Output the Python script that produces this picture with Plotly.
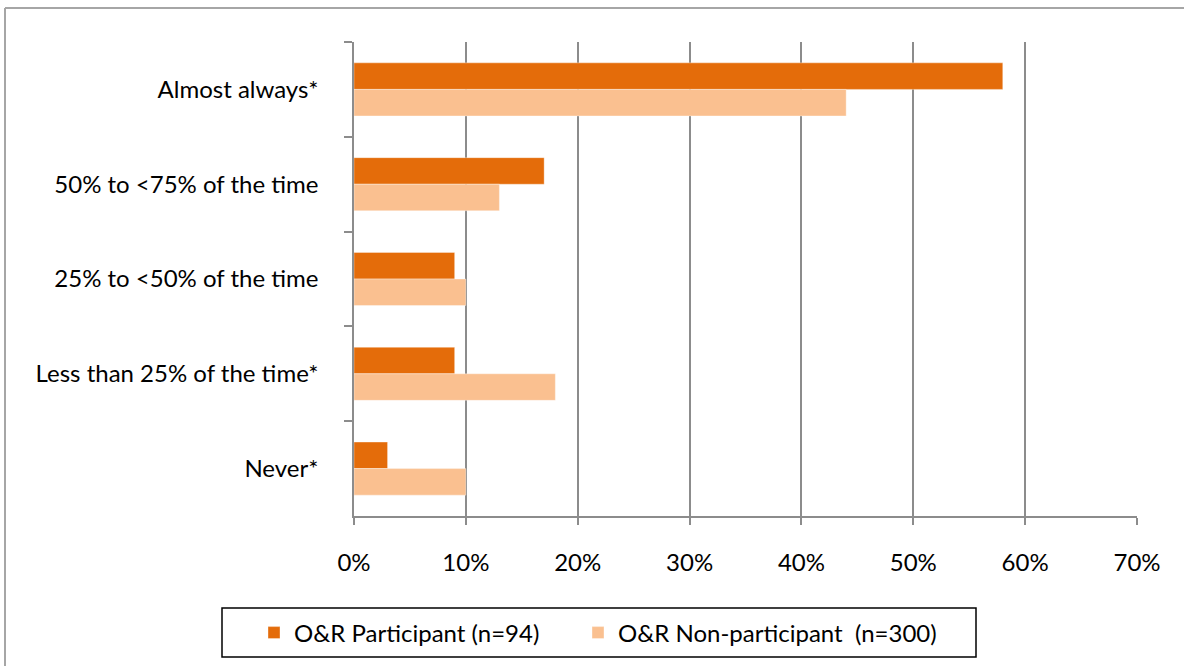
import plotly.graph_objects as go

# Survey responses by O&R programme participation (share of respondents)
categories = [
    "Almost always*",
    "50% to <75% of the time",
    "25% to <50% of the time",
    "Less than 25% of the time*",
    "Never*",
]
participant = [0.58, 0.17, 0.09, 0.09, 0.03]
non_participant = [0.44, 0.13, 0.10, 0.18, 0.10]
series_names = ["O&R Participant (n=94)", "O&R Non-participant  (n=300)"]
x_ticks = [0, 0.1, 0.2, 0.3, 0.4, 0.5, 0.6, 0.7]

DARK = "#E46C0A"
LIGHT = "#FAC090"
GRID = "#8C8C8C"
FONT = "Lato, Carlito, Calibri, sans-serif"
FS = 24

W, H = 1184, 666
L, R, T, B = 354, 47, 42, 150
pw, ph = W - L - R, H - T - B


def px_x(px):
    return (px - L) / pw


def px_y(py):
    return (H - B - py) / ph


fig = go.Figure()
fig.add_trace(go.Bar(
    y=categories, x=participant, orientation="h", name=series_names[0],
    marker=dict(color=DARK, line=dict(color="rgba(255,255,255,0.35)", width=1)),
    legend="legend",
))
fig.add_trace(go.Bar(
    y=categories, x=non_participant, orientation="h", name=series_names[1],
    marker=dict(color=LIGHT, line=dict(color="rgba(255,255,255,0.35)", width=1)),
    legend="legend2",
))

legend_common = dict(
    orientation="h", xanchor="left", y=px_y(633), yanchor="middle",
    font=dict(family=FONT, size=FS, color="black"),
    bgcolor="rgba(0,0,0,0)", borderwidth=0,
)

fig.update_layout(
    width=W, height=H,
    margin=dict(l=L, r=R, t=T, b=B, autoexpand=False),
    paper_bgcolor="white", plot_bgcolor="white",
    barmode="group", bargap=0.44, bargroupgap=0,
    font=dict(family=FONT, size=FS, color="black"),
    showlegend=True,
    legend=dict(x=px_x(254), **legend_common),
    legend2=dict(x=px_x(578), **legend_common),
    xaxis=dict(
        range=[0, 0.7], tickvals=x_ticks, tickformat=".0%",
        showgrid=True, gridcolor=GRID, gridwidth=1.5,
        showline=True, linecolor=GRID, linewidth=1.5,
        ticks="outside", ticklen=7, tickcolor=GRID, tickwidth=1.5,
        ticklabelstandoff=17, zeroline=False, fixedrange=True,
    ),
    yaxis=dict(
        type="category", autorange="reversed",
        showgrid=False, showline=True, linecolor=GRID, linewidth=1.5,
        ticks="outside", tickson="boundaries", ticklen=8,
        tickcolor=GRID, tickwidth=1.5, ticklabelstandoff=29,
        fixedrange=True,
    ),
    shapes=[
        # legend frame
        dict(type="rect", xref="paper", yref="paper",
             x0=px_x(222), x1=px_x(976), y0=px_y(657), y1=px_y(608),
             line=dict(color="black", width=1.5), fillcolor="rgba(0,0,0,0)",
             layer="below"),
        # outer chart frame (top and left edges)
        dict(type="line", xref="paper", yref="paper",
             x0=px_x(5), x1=px_x(1200), y0=px_y(8), y1=px_y(8),
             line=dict(color="#A6A6A6", width=2)),
        dict(type="line", xref="paper", yref="paper",
             x0=px_x(5), x1=px_x(5), y0=px_y(8), y1=px_y(680),
             line=dict(color="#A6A6A6", width=2)),
    ],
)

fig.write_html("out.html")
